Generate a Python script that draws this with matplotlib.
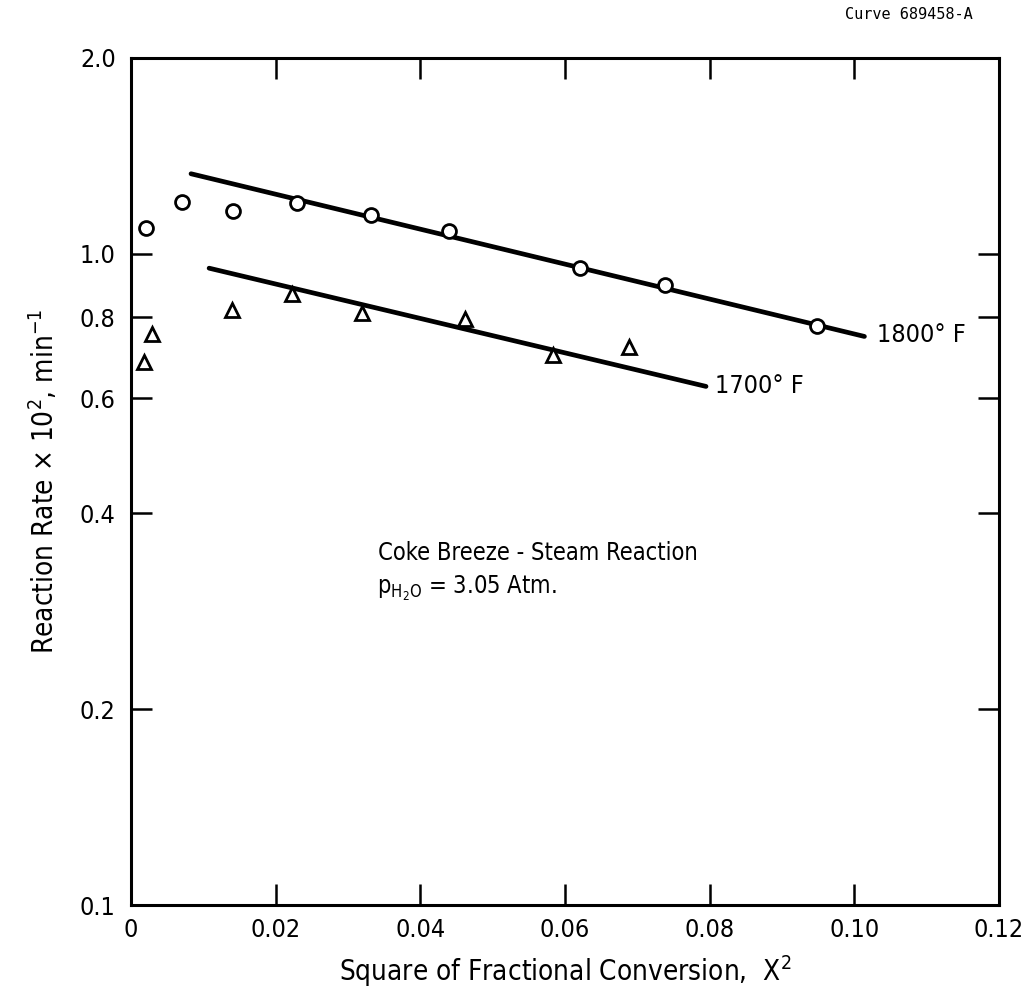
import matplotlib
matplotlib.use("Agg")
import matplotlib.pyplot as plt
from matplotlib.ticker import FixedLocator, FixedFormatter, NullLocator

plt.rcParams["font.family"] = ["DejaVu Sans"]
plt.rcParams["font.stretch"] = "condensed"
plt.rcParams["mathtext.fontset"] = "dejavusans"

# 1800 F data (circles)
x_1800 = [0.0021, 0.0070, 0.0141, 0.0230, 0.0332, 0.0440, 0.0621, 0.0738, 0.0949]
y_1800 = [1.097, 1.202, 1.164, 1.196, 1.149, 1.086, 0.951, 0.897, 0.774]

# 1700 F data (triangles)
x_1700 = [0.0018, 0.0029, 0.0139, 0.0223, 0.0320, 0.0462, 0.0584, 0.0689]
y_1700 = [0.682, 0.753, 0.821, 0.868, 0.813, 0.795, 0.700, 0.720]

# fitted lines (end points)
fit_1800_x = [0.0083, 0.1014]
fit_1800_y = [1.328, 0.747]
fit_1700_x = [0.0108, 0.0795]
fit_1700_y = [0.951, 0.626]

x_ticks = [0, 0.02, 0.04, 0.06, 0.08, 0.10, 0.12]
x_tick_labels = ["0", "0.02", "0.04", "0.06", "0.08", "0.10", "0.12"]
y_ticks = [0.1, 0.2, 0.4, 0.6, 0.8, 1.0, 2.0]
y_tick_labels = ["0.1", "0.2", "0.4", "0.6", "0.8", "1.0", "2.0"]

fig = plt.figure(figsize=(10.29, 9.93), dpi=100)
ax = fig.add_axes([0.1273, 0.0886, 0.8435, 0.853])

ax.plot(fit_1800_x, fit_1800_y, color="black", linewidth=3.4, solid_capstyle="round")
ax.plot(fit_1700_x, fit_1700_y, color="black", linewidth=3.4, solid_capstyle="round")
ax.plot(x_1800, y_1800, linestyle="none", marker="o", markersize=10,
        markerfacecolor="white", markeredgecolor="black", markeredgewidth=2)
ax.plot(x_1700, y_1700, linestyle="none", marker="^", markersize=10.5,
        markerfacecolor="white", markeredgecolor="black", markeredgewidth=2)

ax.set_yscale("log")
ax.set_xlim(0, 0.12)
ax.set_ylim(0.1, 2.0)

ax.xaxis.set_major_locator(FixedLocator(x_ticks))
ax.xaxis.set_major_formatter(FixedFormatter(x_tick_labels))
ax.yaxis.set_major_locator(FixedLocator(y_ticks))
ax.yaxis.set_major_formatter(FixedFormatter(y_tick_labels))
ax.yaxis.set_minor_locator(NullLocator())

ax.tick_params(axis="both", which="major", direction="in", length=15, width=1.8,
               top=True, right=True, labelsize=18)
ax.tick_params(axis="x", pad=9)
ax.tick_params(axis="y", pad=11)
for spine in ax.spines.values():
    spine.set_linewidth(2.2)

ax.set_xlabel(r"Square of Fractional Conversion,  X$^2$", fontsize=20, labelpad=8)
ax.set_ylabel(r"Reaction Rate $\times$ 10$^2$, min$^{-1}$", fontsize=20, labelpad=14)

ax.text(0.1032, 0.751, "1800° F", fontsize=18, ha="left", va="center")
ax.text(0.0807, 0.626, "1700° F", fontsize=18, ha="left", va="center")

ax.text(0.2846, 0.4156, "Coke Breeze - Steam Reaction", transform=ax.transAxes,
        fontsize=17, ha="left", va="center")
ax.text(0.2834, 0.374, r"p$_{\mathrm{H_2O}}$ = 3.05 Atm.", transform=ax.transAxes,
        fontsize=17, ha="left", va="center")

fig.text(0.9456, 0.985, "Curve 689458-A", family="DejaVu Sans Mono", fontsize=11,
         ha="right", va="center")

fig.savefig("out.png", dpi=100)
